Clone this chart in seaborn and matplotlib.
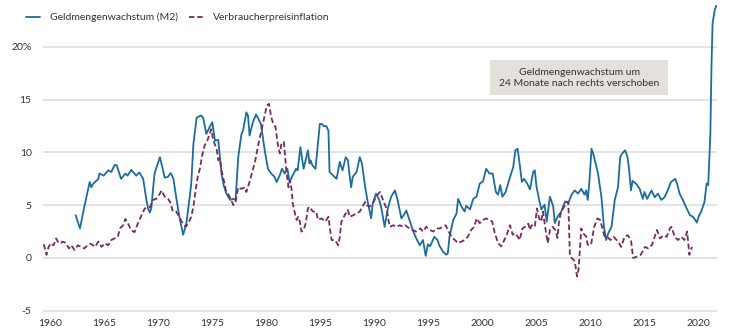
import matplotlib
matplotlib.use("Agg")
import matplotlib.pyplot as plt
from matplotlib.patches import Rectangle
import seaborn as sns
import pandas as pd

# Money supply growth (M2), shifted forward by 24 months, in % y/y
m2_year = [
    1962.4, 1962.8, 1963.2, 1963.7, 1963.85, 1964.0, 1964.5, 1964.6, 1965.0, 1965.4,
    1965.7, 1966.0, 1966.2, 1966.6, 1967.0, 1967.2, 1967.55, 1968.0, 1968.3, 1968.65,
    1968.95, 1969.1, 1969.26, 1969.4, 1969.7, 1970.2, 1970.65, 1970.95, 1971.2, 1971.45,
    1971.7, 1972.0, 1972.35, 1972.65, 1972.96, 1973.1, 1973.3, 1973.6, 1974.0, 1974.2,
    1974.5, 1974.8, 1975.05, 1975.3, 1975.6, 1975.75, 1975.9, 1976.1, 1976.35, 1976.7,
    1977.0, 1977.2, 1977.45, 1977.75, 1977.9, 1978.2, 1978.35, 1978.5, 1978.8, 1979.1,
    1979.4, 1979.55, 1979.9, 1980.2, 1980.5, 1980.8, 1981.0, 1981.3, 1981.5, 1981.75,
    1982.0, 1982.2, 1982.5, 1982.8, 1982.95, 1983.2, 1983.5, 1983.65, 1983.9, 1984.05,
    1984.15, 1984.3, 1984.5, 1984.6, 1985.0, 1985.2, 1985.35, 1985.6, 1985.8, 1985.9,
    1986.2, 1986.55, 1986.85, 1987.0, 1987.1, 1987.4, 1987.6, 1987.7, 1987.9, 1988.05,
    1988.4, 1988.7, 1988.9, 1989.2, 1989.4, 1989.6, 1989.75, 1989.9, 1990.2, 1990.5,
    1990.7, 1991.0, 1991.3, 1991.6, 1991.95, 1992.2, 1992.55, 1992.85, 1993.0, 1993.3,
    1993.6, 1993.9, 1994.26, 1994.55, 1994.8, 1995.0, 1995.2, 1995.6, 1995.9, 1996.05,
    1996.4, 1996.7, 1996.85, 1997.0, 1997.35, 1997.65, 1997.8, 1998.1, 1998.4, 1998.55,
    1998.9, 1999.2, 1999.5, 1999.8, 2000.1, 2000.4, 2000.7, 2001.0, 2001.3, 2001.5,
    2001.7, 2001.9, 2002.2, 2002.6, 2002.9, 2003.1, 2003.3, 2003.45, 2003.7, 2003.9,
    2004.2, 2004.45, 2004.75, 2004.9, 2005.05, 2005.3, 2005.5, 2005.8, 2006.0, 2006.3,
    2006.6, 2006.75, 2007.0, 2007.35, 2007.7, 2008.0, 2008.3, 2008.6, 2008.9, 2009.2,
    2009.5, 2009.65, 2009.8, 2009.95, 2010.15, 2010.3, 2010.75, 2011.06, 2011.3, 2011.5,
    2011.7, 2012.0, 2012.3, 2012.6, 2012.8, 2012.95, 2013.25, 2013.45, 2013.6, 2013.8,
    2013.95, 2014.3, 2014.6, 2014.9, 2015.05, 2015.3, 2015.7, 2016.0, 2016.3, 2016.6,
    2016.9, 2017.2, 2017.5, 2017.9, 2018.1, 2018.3, 2018.6, 2018.95, 2019.26, 2019.55,
    2019.9, 2020.05, 2020.3, 2020.6, 2020.8, 2020.95, 2021.15, 2021.25, 2021.35, 2021.55,
    2021.7,
]
m2_value = [
    4.05, 2.8, 4.85, 7.2, 6.7, 7.0, 7.5, 8.0, 7.8, 8.3,
    8.15, 8.8, 8.8, 7.5, 8.0, 7.8, 8.35, 7.8, 8.1, 7.5,
    5.5, 4.7, 4.3, 4.7, 8.0, 9.55, 7.6, 7.7, 8.05, 7.5,
    5.8, 3.9, 2.2, 3.3, 5.8, 7.05, 10.8, 13.3, 13.5, 13.3,
    11.75, 12.4, 12.85, 11.1, 11.2, 9.55, 8.0, 6.9, 6.1, 5.5,
    5.6, 5.5, 9.55, 11.75, 12.1, 13.8, 13.5, 11.6, 12.85, 13.6,
    13.0, 12.7, 10.2, 8.45, 8.0, 7.7, 7.2, 7.85, 8.45, 8.0,
    8.45, 7.2, 7.85, 8.45, 8.3, 10.5, 8.45, 9.1, 10.2, 8.95,
    9.25, 8.8, 8.55, 8.45, 12.7, 12.7, 12.5, 12.5, 12.05, 8.15,
    7.85, 7.5, 9.1, 8.6, 8.3, 9.55, 9.25, 8.3, 6.7, 7.7,
    8.15, 9.55, 8.95, 6.7, 5.5, 4.5, 3.75, 5.15, 6.1, 5.5,
    4.7, 2.95, 4.7, 5.8, 6.4, 5.5, 3.75, 4.2, 4.5, 3.6,
    2.65, 1.9, 1.2, 1.7, 0.2, 1.3, 1.1, 2.0, 1.7, 1.2,
    0.6, 0.3, 0.45, 2.0, 3.6, 4.2, 5.6, 4.9, 4.4, 4.95,
    4.6, 5.6, 5.8, 7.05, 7.25, 8.45, 8.0, 8.0, 6.25, 6.0,
    6.9, 5.8, 6.25, 7.65, 8.6, 10.2, 10.35, 9.3, 7.2, 7.5,
    7.05, 6.5, 8.15, 8.3, 6.8, 5.5, 4.6, 5.05, 3.45, 5.8,
    4.9, 3.3, 3.9, 4.4, 5.35, 5.2, 6.0, 6.4, 6.1, 6.55,
    6.0, 6.4, 5.5, 7.25, 10.35, 9.9, 8.0, 5.8, 2.95, 1.7,
    2.35, 2.95, 5.5, 6.7, 9.55, 9.85, 10.2, 9.7, 8.65, 6.4,
    7.3, 7.0, 6.55, 5.6, 6.25, 5.6, 6.4, 5.75, 6.1, 5.5,
    5.75, 6.4, 7.2, 7.5, 6.9, 6.1, 5.5, 4.7, 4.05, 3.9,
    3.35, 3.9, 4.4, 5.3, 7.05, 6.9, 11.8, 18.1, 22.2, 23.5,
    23.9,
]

# Consumer price inflation, in % y/y
cpi_year = [
    1959.45, 1959.7, 1959.9, 1960.1, 1960.35, 1960.6, 1960.8, 1961.0, 1961.2, 1961.45,
    1961.8, 1962.0, 1962.3, 1962.6, 1962.9, 1963.2, 1963.5, 1963.8, 1964.2, 1964.5,
    1964.8, 1965.1, 1965.4, 1965.7, 1966.0, 1966.3, 1966.5, 1966.8, 1967.0, 1967.25,
    1967.55, 1967.85, 1968.15, 1968.5, 1968.8, 1969.1, 1969.3, 1969.55, 1969.85, 1970.2,
    1970.35, 1970.65, 1970.95, 1971.15, 1971.4, 1971.7, 1972.0, 1972.2, 1972.35, 1972.6,
    1972.9, 1973.1, 1973.3, 1973.5, 1973.7, 1973.9, 1974.1, 1974.35, 1974.55, 1974.8,
    1974.95, 1975.15, 1975.45, 1975.6, 1975.75, 1975.9, 1976.15, 1976.3, 1976.5, 1976.75,
    1977.0, 1977.2, 1977.45, 1977.75, 1978.05, 1978.2, 1978.45, 1978.7, 1979.0, 1979.3,
    1979.6, 1979.9, 1980.1, 1980.3, 1980.5, 1980.65, 1980.9, 1981.1, 1981.3, 1981.45,
    1981.67, 1981.9, 1982.1, 1982.25, 1982.4, 1982.5, 1982.7, 1982.85, 1983.0, 1983.15,
    1983.3, 1983.5, 1983.7, 1983.9, 1984.05, 1984.35, 1984.65, 1984.85, 1985.15, 1985.5,
    1985.8, 1985.95, 1986.1, 1986.4, 1986.7, 1986.85, 1987.0, 1987.3, 1987.6, 1987.75,
    1988.1, 1988.4, 1988.7, 1988.85, 1989.2, 1989.35, 1989.6, 1989.9, 1990.2, 1990.56,
    1990.85, 1991.2, 1991.35, 1991.5, 1991.8, 1992.1, 1992.4, 1992.7, 1992.9, 1993.3,
    1993.6, 1993.9, 1994.3, 1994.55, 1994.85, 1995.2, 1995.5, 1995.8, 1996.1, 1996.4,
    1996.65, 1996.85, 1997.2, 1997.5, 1997.8, 1998.1, 1998.4, 1998.7, 1999.0, 1999.3,
    1999.5, 1999.8, 2000.1, 2000.4, 2000.7, 2000.95, 2001.2, 2001.5, 2001.8, 2002.0,
    2002.3, 2002.6, 2002.85, 2003.05, 2003.3, 2003.5, 2003.75, 2004.0, 2004.3, 2004.45,
    2004.6, 2004.9, 2005.1, 2005.3, 2005.5, 2005.65, 2005.9, 2006.1, 2006.3, 2006.55,
    2006.8, 2007.0, 2007.15, 2007.35, 2007.7, 2007.85, 2008.0, 2008.15, 2008.3, 2008.6,
    2008.8, 2008.95, 2009.2, 2009.35, 2009.65, 2009.8, 2010.1, 2010.4, 2010.7, 2010.95,
    2011.35, 2011.6, 2011.9, 2012.2, 2012.6, 2012.9, 2013.2, 2013.5, 2013.8, 2014.0,
    2014.4, 2014.7, 2015.1, 2015.4, 2015.75, 2016.2, 2016.5, 2016.8, 2017.1, 2017.4,
    2017.55, 2017.85, 2018.15, 2018.45, 2018.75, 2019.0, 2019.2, 2019.45,
]
cpi_value = [
    1.3, 0.3, 1.05, 1.4, 1.2, 1.85, 1.45, 1.4, 1.55, 1.45,
    0.9, 1.2, 0.75, 1.2, 1.05, 0.9, 1.2, 1.35, 1.05, 1.55,
    1.05, 1.4, 1.2, 1.7, 1.85, 2.0, 2.8, 3.1, 3.7, 3.25,
    2.6, 2.45, 3.25, 4.05, 4.7, 4.7, 4.85, 5.5, 5.6, 6.1,
    6.4, 5.8, 5.6, 5.3, 4.4, 4.4, 3.9, 3.45, 3.3, 2.95,
    3.45, 3.9, 4.85, 6.4, 7.7, 8.45, 9.7, 10.7, 11.0, 11.75,
    12.2, 11.1, 10.35, 9.25, 9.4, 8.3, 7.2, 6.4, 6.1, 5.6,
    5.0, 5.3, 6.7, 6.55, 6.7, 6.25, 7.05, 8.0, 9.1, 10.7,
    12.1, 13.5, 14.45, 14.6, 13.35, 12.85, 12.4, 10.85, 9.9, 10.85,
    11.0, 8.3, 6.7, 7.35, 6.4, 5.15, 4.2, 3.6, 3.9, 3.45,
    2.5, 2.65, 3.3, 4.7, 4.85, 4.4, 4.4, 3.6, 3.75, 3.45,
    3.9, 2.65, 1.7, 1.7, 1.2, 2.0, 3.45, 4.05, 4.55, 3.9,
    4.05, 4.2, 4.4, 4.7, 5.3, 5.0, 4.85, 5.15, 5.8, 6.25,
    5.5, 4.6, 3.6, 2.95, 3.1, 2.95, 3.1, 2.95, 3.1, 2.8,
    2.65, 2.5, 2.8, 2.5, 2.95, 2.65, 2.5, 2.8, 2.8, 2.95,
    3.1, 2.65, 2.0, 1.7, 1.4, 1.55, 1.7, 2.0, 2.65, 2.95,
    3.75, 3.3, 3.6, 3.75, 3.6, 3.45, 2.35, 1.4, 1.1, 1.55,
    2.2, 3.1, 2.2, 2.35, 2.05, 1.7, 2.8, 2.95, 3.25, 2.65,
    3.1, 2.95, 4.7, 3.75, 3.45, 4.4, 2.65, 1.4, 2.65, 2.95,
    2.65, 1.9, 3.6, 4.4, 5.0, 5.35, 5.2, 0.15, 0.0, -0.3,
    -1.75, -1.1, 2.8, 2.35, 2.05, 1.25, 1.25, 2.95, 3.75, 3.6,
    2.05, 2.0, 1.7, 2.0, 1.55, 1.05, 2.0, 2.15, 1.7, 0.0,
    0.15, 0.3, 1.05, 0.9, 1.25, 2.65, 1.85, 2.15, 2.0, 2.8,
    2.95, 2.0, 1.7, 2.0, 1.7, 2.5, 0.3, 1.05,
]

x_ticks = [1960, 1965, 1970, 1975, 1980, 1985, 1990, 1995, 2000, 2005, 2010, 2015, 2020]
x_tick_labels = ["1960", "1965", "1970", "1975", "1980", "1995", "1990", "1995",
                 "2000", "2005", "2010", "2015", "2020"]
y_ticks = [-5, 0, 5, 10, 15, 20]
y_tick_labels = ["-5", "0", "5", "10", "15", "20%"]

m2_label = "Geldmengenwachstum (M2)"
cpi_label = "Verbraucherpreisinflation"
note_text = "Geldmengenwachstum um\n24 Monate nach rechts verschoben"

BLUE = "#1c6c9e"
PURPLE = "#7b2a5c"
TEXT = "#333333"
GRID = "#e3e3e3"

sns.set_theme(style="white")
plt.rcParams["font.family"] = ["Lato", "DejaVu Sans"]

m2 = pd.DataFrame({"Jahr": m2_year, "Wert": m2_value})
cpi = pd.DataFrame({"Jahr": cpi_year, "Wert": cpi_value})

fig = plt.figure(figsize=(7.36, 3.35), dpi=100)
ax = fig.add_axes([0.058, 0.063, 0.916, 0.923])

sns.lineplot(data=m2, x="Jahr", y="Wert", ax=ax, color=BLUE, linewidth=1.3,
             label=m2_label, zorder=3)
sns.lineplot(data=cpi, x="Jahr", y="Wert", ax=ax, color=PURPLE, linewidth=1.3,
             linestyle=(0, (3, 1.6)), label=cpi_label, zorder=3)

ax.set_xlim(1959.35, 2021.75)
ax.set_ylim(-5.3, 24)
ax.set_xticks(x_ticks)
ax.set_xticklabels(x_tick_labels)
ax.set_yticks(y_ticks)
ax.set_yticklabels(y_tick_labels)
ax.set_xlabel("")
ax.set_ylabel("")
ax.tick_params(axis="both", length=0, labelsize=7.5, labelcolor=TEXT)
ax.tick_params(axis="y", pad=8)
ax.tick_params(axis="x", pad=4)
ax.grid(axis="y", color=GRID, linewidth=1.4)
ax.grid(axis="x", visible=False)
ax.set_axisbelow(True)
sns.despine(ax=ax, left=True, bottom=True)

handles, labels = ax.get_legend_handles_labels()
ax.get_legend().remove()
fig.legend(handles, labels, loc="upper left", bbox_to_anchor=(0.022, 0.99),
           ncol=2, frameon=False, fontsize=7.5, labelcolor=TEXT,
           handlelength=1.4, handletextpad=0.9, columnspacing=1.1)

# Note box
fig.patches.append(Rectangle((0.666, 0.716), 0.242, 0.1045, transform=fig.transFigure,
                             facecolor="#e4e1dd", edgecolor="none", zorder=5))
fig.text(0.787, 0.768, note_text, ha="center", va="center", fontsize=7.5,
         color=TEXT, linespacing=1.25, zorder=6)

fig.savefig("out.png", dpi=100)
